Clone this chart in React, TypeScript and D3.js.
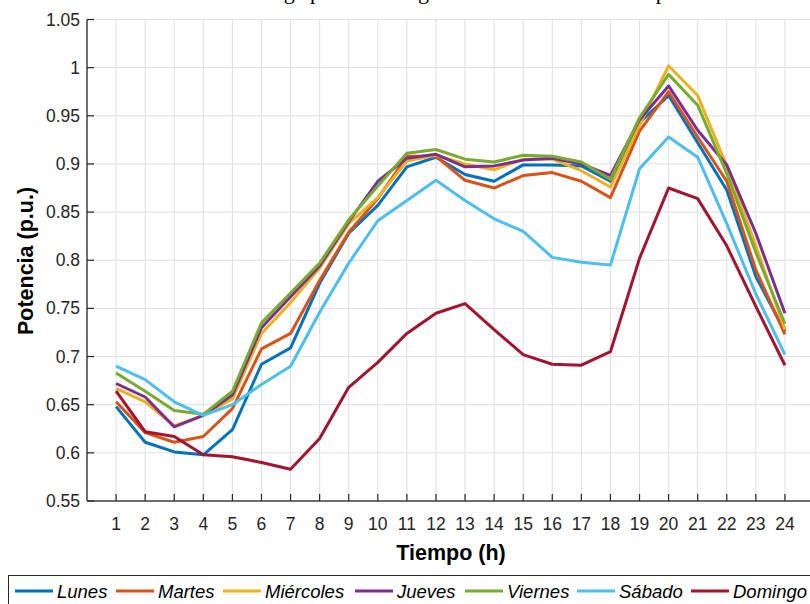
import React, { useEffect } from "react";
import * as d3 from "d3";

const hours = [1, 2, 3, 4, 5, 6, 7, 8, 9, 10, 11, 12, 13, 14, 15, 16, 17, 18, 19, 20, 21, 22, 23, 24];
const seriesNames = ["Lunes", "Martes", "Miércoles", "Jueves", "Viernes", "Sábado", "Domingo"];
const lunes = [0.648, 0.611, 0.601, 0.598, 0.624, 0.692, 0.709, 0.776, 0.828, 0.857, 0.897, 0.907, 0.889, 0.882, 0.899, 0.899, 0.898, 0.882, 0.943, 0.971, 0.922, 0.873, 0.783, 0.726];
const martes = [0.653, 0.621, 0.611, 0.617, 0.646, 0.708, 0.724, 0.779, 0.829, 0.864, 0.908, 0.908, 0.883, 0.875, 0.888, 0.891, 0.882, 0.865, 0.934, 0.975, 0.928, 0.882, 0.79, 0.723];
const miercoles = [0.667, 0.653, 0.628, 0.639, 0.656, 0.724, 0.756, 0.792, 0.838, 0.865, 0.903, 0.909, 0.9, 0.894, 0.905, 0.905, 0.893, 0.876, 0.94, 1.002, 0.971, 0.898, 0.815, 0.728];
const jueves = [0.672, 0.658, 0.627, 0.639, 0.66, 0.73, 0.762, 0.794, 0.84, 0.882, 0.906, 0.91, 0.897, 0.898, 0.904, 0.906, 0.9, 0.888, 0.946, 0.981, 0.935, 0.899, 0.828, 0.745];
const viernes = [0.683, 0.664, 0.644, 0.64, 0.664, 0.735, 0.766, 0.797, 0.842, 0.877, 0.911, 0.915, 0.905, 0.902, 0.909, 0.908, 0.902, 0.884, 0.948, 0.993, 0.961, 0.89, 0.808, 0.734];
const sabado = [0.69, 0.676, 0.653, 0.639, 0.65, 0.671, 0.69, 0.746, 0.797, 0.841, 0.862, 0.883, 0.862, 0.843, 0.83, 0.803, 0.798, 0.795, 0.895, 0.928, 0.907, 0.838, 0.765, 0.702];
const domingo = [0.664, 0.622, 0.617, 0.598, 0.596, 0.59, 0.583, 0.615, 0.668, 0.694, 0.724, 0.745, 0.755, 0.728, 0.702, 0.692, 0.691, 0.705, 0.802, 0.875, 0.864, 0.815, 0.752, 0.691];
const yTicks = [0.55, 0.6, 0.65, 0.7, 0.75, 0.8, 0.85, 0.9, 0.95, 1, 1.05];
const colors = ["#0072BD", "#D95319", "#EDB120", "#7E2F8E", "#77AC30", "#4DBEEE", "#A2142F"];
const allSeries = [lunes, martes, miercoles, jueves, viernes, sabado, domingo];

const W = 810;
const H = 604;
const SANS = "'Liberation Sans', Arial, Helvetica, sans-serif";

export default function App() {
  useEffect(() => {
    document.body.style.margin = "0";
  }, []);

  const x = d3.scaleLinear().domain([0, 25]).range([87, 814]);
  const y = d3.scaleLinear().domain([0.55, 1.05]).range([501, 19.5]);
  const line = d3
    .line<number>()
    .x((_, i) => x(hours[i]))
    .y((d) => y(d));

  const legendX = [15, 116, 223, 355, 465, 577, 691];

  return (
    <svg width={W} height={H} style={{ position: "absolute", left: 0, top: 0, background: "#fff" }} fontFamily={SANS}>
      <rect x={0} y={0} width={W} height={H} fill="#fff" />
      {/* title, mostly cut off at the top */}
      <text x={451} y={-1} textAnchor="middle" fontFamily="'Liberation Serif', 'Times New Roman', serif" fontSize={22} fill="#000">
        Curva de carga promedio según el día de la semana en potencia
      </text>
      {/* grid */}
      <g stroke="#dfdfdf" strokeWidth={1}>
        {hours.map((h) => (
          <line key={"gx" + h} x1={x(h)} x2={x(h)} y1={y(1.05)} y2={y(0.55)} />
        ))}
        {yTicks.slice(1).map((t) => (
          <line key={"gy" + t} x1={x(0)} x2={x(25)} y1={y(t)} y2={y(t)} />
        ))}
      </g>
      {/* series */}
      <g fill="none" strokeWidth={3} strokeLinejoin="round">
        {allSeries.map((s, i) => (
          <path key={seriesNames[i]} d={line(s) || ""} stroke={colors[i]} />
        ))}
      </g>
      {/* axes */}
      <line x1={x(0)} x2={x(0)} y1={y(1.05)} y2={y(0.55)} stroke="#6e6e6e" strokeWidth={2} />
      <line x1={x(0)} x2={x(25)} y1={y(0.55)} y2={y(0.55)} stroke="#6e6e6e" strokeWidth={2} />
      <g stroke="#262626" strokeWidth={1.2}>
        {yTicks.map((t) => (
          <line key={"ty" + t} x1={x(0)} x2={x(0) + 7} y1={y(t)} y2={y(t)} />
        ))}
        {hours.map((h) => (
          <line key={"tx" + h} x1={x(h)} x2={x(h)} y1={y(0.55)} y2={y(0.55) - 7} />
        ))}
      </g>
      <g fontSize={17.5} fill="#262626">
        {yTicks.map((t) => (
          <text key={"ly" + t} x={80} y={y(t) + 6} textAnchor="end">
            {d3.format("")(t)}
          </text>
        ))}
        {hours.map((h) => (
          <text key={"lx" + h} x={x(h)} y={530} textAnchor="middle">
            {h}
          </text>
        ))}
      </g>
      <text x={451} y={560} textAnchor="middle" fontSize={21.5} fontWeight="bold" fill="#000">
        Tiempo (h)
      </text>
      <text transform="translate(33,261) rotate(-90)" textAnchor="middle" fontSize={21.5} fontWeight="bold" fill="#000">
        Potencia (p.u.)
      </text>
      {/* legend */}
      <rect x={8.5} y={575.5} width={820} height={40} fill="#fff" stroke="#262626" strokeWidth={1} />
      {seriesNames.map((n, i) => (
        <g key={"lg" + n}>
          <line x1={legendX[i]} x2={legendX[i] + 38} y1={591} y2={591} stroke={colors[i]} strokeWidth={3} />
          <text x={legendX[i] + 42} y={598} fontSize={18.5} fontStyle="italic" fill="#000">
            {n}
          </text>
        </g>
      ))}
    </svg>
  );
}
